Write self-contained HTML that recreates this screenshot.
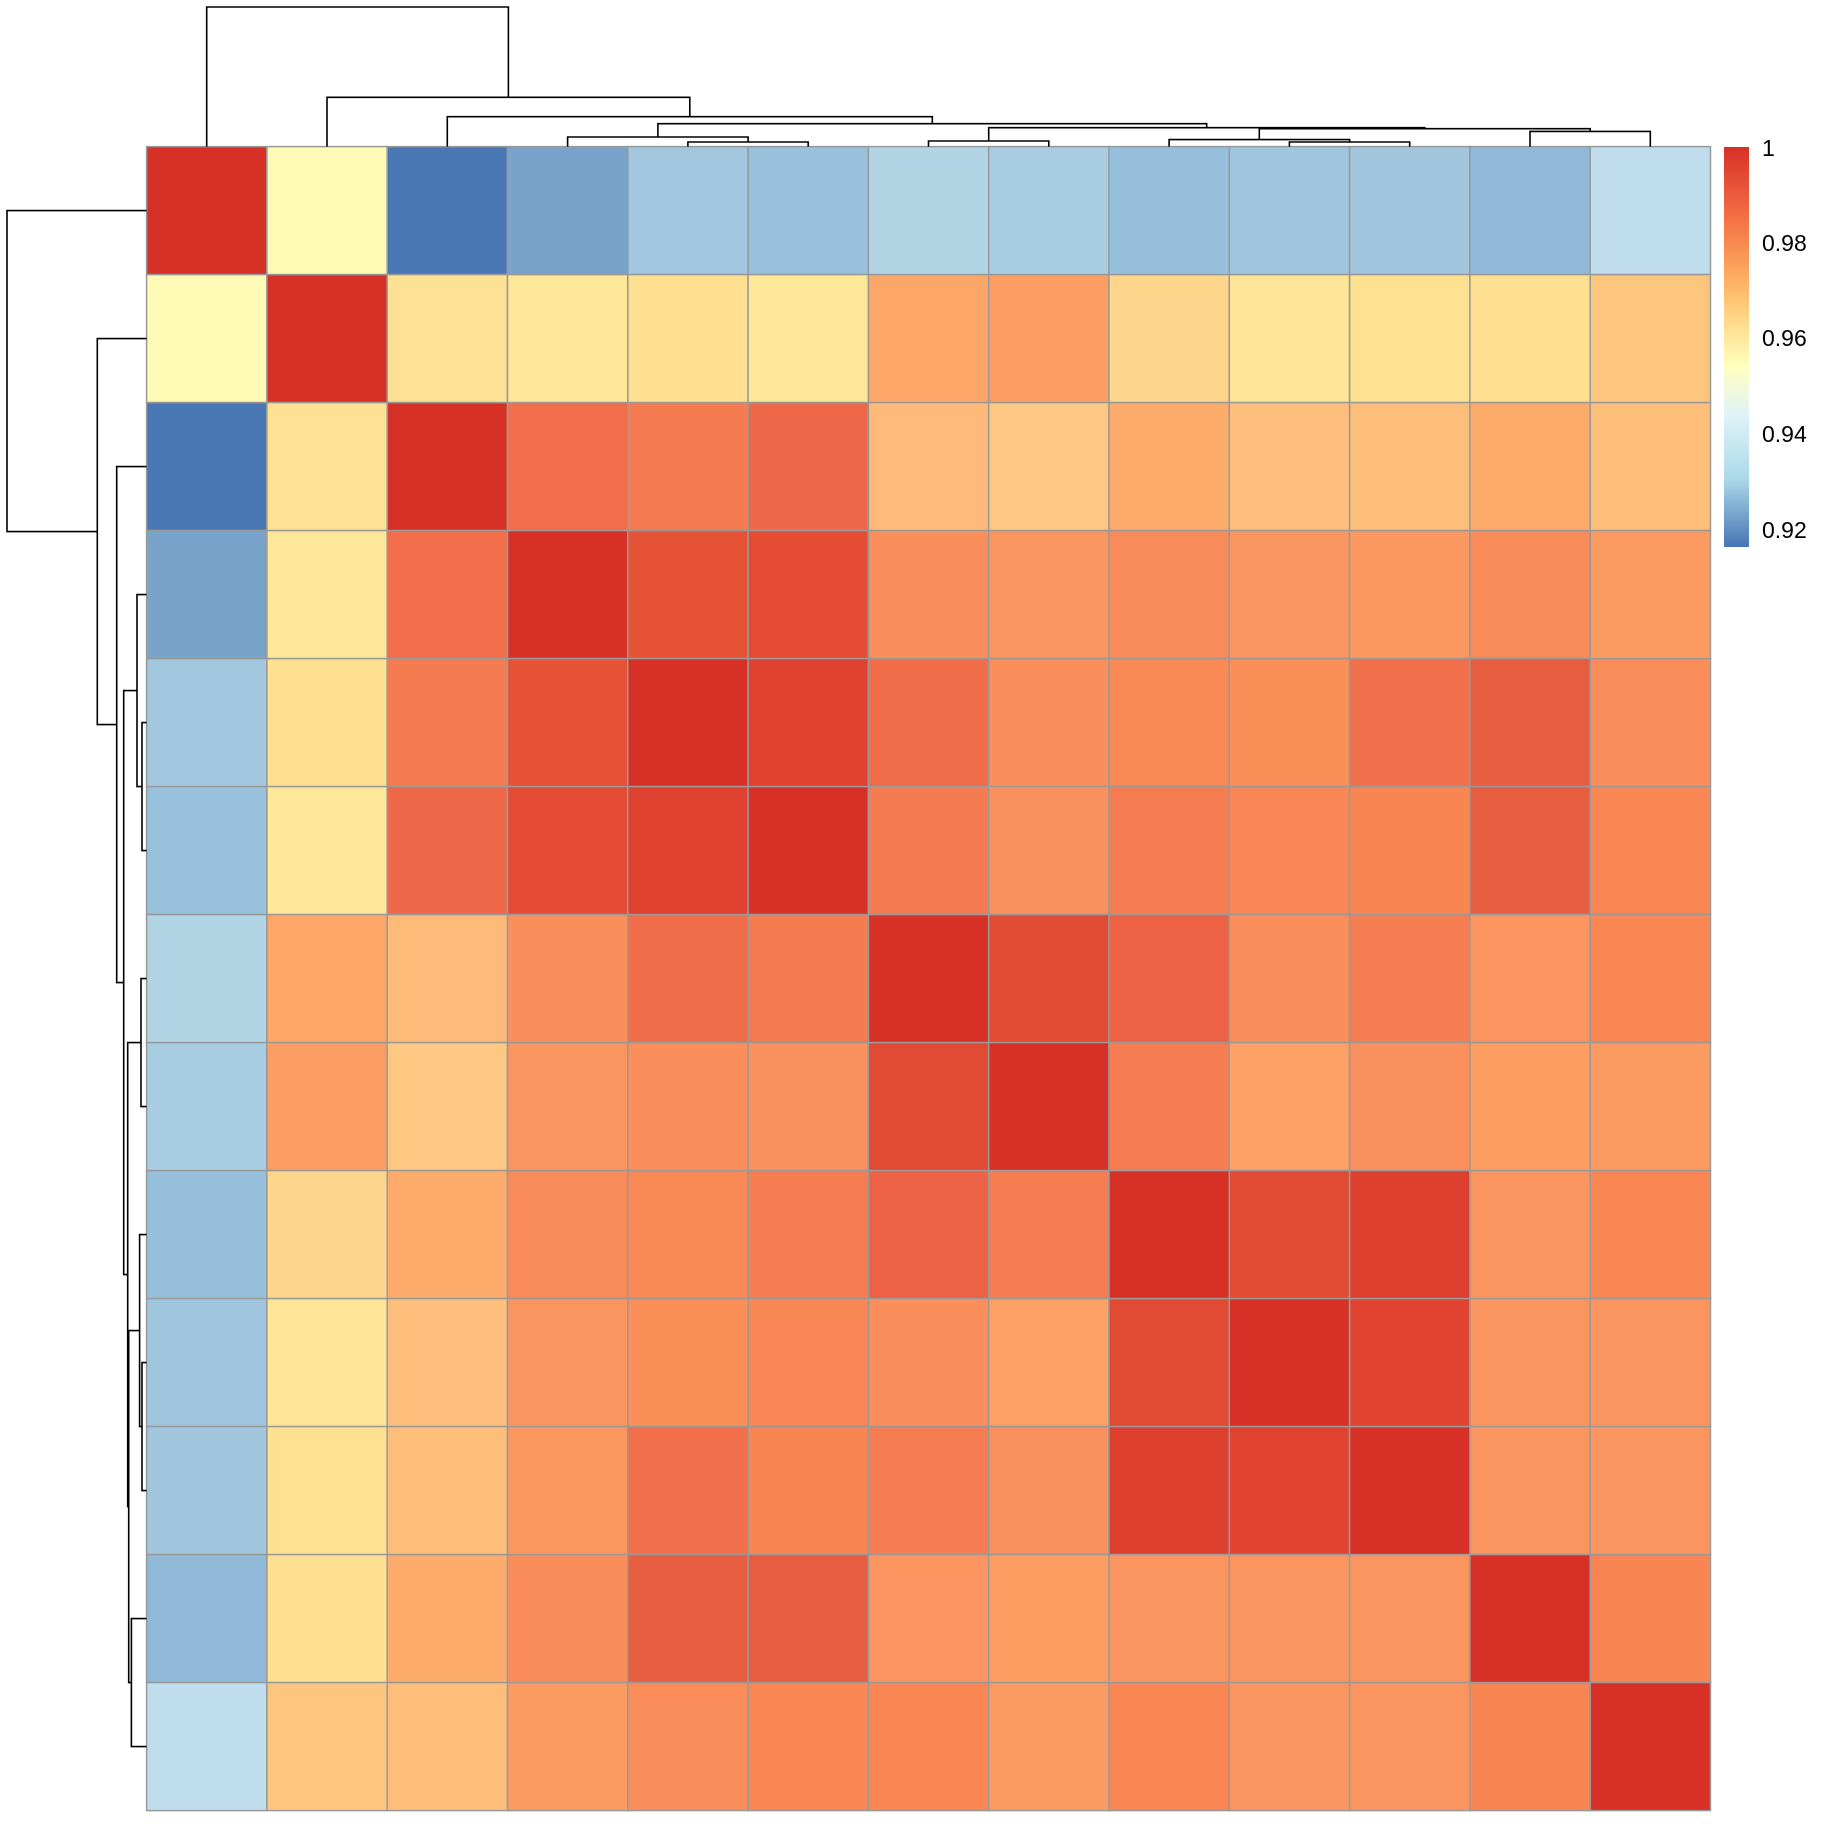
<!DOCTYPE html>
<html><head><meta charset="utf-8"><style>
html,body{margin:0;padding:0;background:#fff;}
svg{display:block;}
</style></head><body>
<svg width="1824" height="1824" viewBox="0 0 1824 1824" xmlns="http://www.w3.org/2000/svg">
<defs>
<linearGradient id="lg" x1="0" y1="0" x2="0" y2="1">
<stop offset="0" stop-color="#d73027"/>
<stop offset="0.17" stop-color="#f46d43"/>
<stop offset="0.33" stop-color="#fdae61"/>
<stop offset="0.45" stop-color="#fee090"/>
<stop offset="0.55" stop-color="#ffffbf"/>
<stop offset="0.67" stop-color="#e0f3f8"/>
<stop offset="0.83" stop-color="#abd9e9"/>
<stop offset="1" stop-color="#4575b4"/>
</linearGradient>
</defs>
<g stroke="#999" stroke-width="1.5">
<g transform="translate(0,146.6)">
<rect x="146.6" width="120.3" height="128" fill="#d73027"/><rect x="266.9" width="120.3" height="128" fill="#fffbb7"/><rect x="387.2" width="120.3" height="128" fill="#4a78b5"/><rect x="507.5" width="120.3" height="128" fill="#78a4cb"/><rect x="627.8" width="120.3" height="128" fill="#a2c7df"/><rect x="748.1" width="120.3" height="128" fill="#98c1dc"/><rect x="868.4" width="120.3" height="128" fill="#b2d5e6"/><rect x="988.7" width="120.3" height="128" fill="#a8cde2"/><rect x="1109" width="120.3" height="128" fill="#96c0db"/><rect x="1229.3" width="120.3" height="128" fill="#a0c5df"/><rect x="1349.6" width="120.3" height="128" fill="#a2c6de"/><rect x="1469.9" width="120.3" height="128" fill="#90bad8"/><rect x="1590.2" width="120.3" height="128" fill="#bfdded"/>
</g>
<g transform="translate(0,274.6)">
<rect x="146.6" width="120.3" height="128" fill="#fffbb7"/><rect x="266.9" width="120.3" height="128" fill="#d73027"/><rect x="387.2" width="120.3" height="128" fill="#fee294"/><rect x="507.5" width="120.3" height="128" fill="#fee799"/><rect x="627.8" width="120.3" height="128" fill="#fee090"/><rect x="748.1" width="120.3" height="128" fill="#fee799"/><rect x="868.4" width="120.3" height="128" fill="#fca768"/><rect x="988.7" width="120.3" height="128" fill="#fc9e63"/><rect x="1109" width="120.3" height="128" fill="#fdd68b"/><rect x="1229.3" width="120.3" height="128" fill="#fee597"/><rect x="1349.6" width="120.3" height="128" fill="#fee191"/><rect x="1469.9" width="120.3" height="128" fill="#fee090"/><rect x="1590.2" width="120.3" height="128" fill="#fdc67e"/>
</g>
<g transform="translate(0,402.6)">
<rect x="146.6" width="120.3" height="128" fill="#4a78b5"/><rect x="266.9" width="120.3" height="128" fill="#fee294"/><rect x="387.2" width="120.3" height="128" fill="#d73027"/><rect x="507.5" width="120.3" height="128" fill="#f26d4a"/><rect x="627.8" width="120.3" height="128" fill="#f57b51"/><rect x="748.1" width="120.3" height="128" fill="#f0684a"/><rect x="868.4" width="120.3" height="128" fill="#fdba78"/><rect x="988.7" width="120.3" height="128" fill="#fec882"/><rect x="1109" width="120.3" height="128" fill="#fcab6b"/><rect x="1229.3" width="120.3" height="128" fill="#fdbf7b"/><rect x="1349.6" width="120.3" height="128" fill="#fdbe7a"/><rect x="1469.9" width="120.3" height="128" fill="#fcab6b"/><rect x="1590.2" width="120.3" height="128" fill="#fdbe7a"/>
</g>
<g transform="translate(0,530.6)">
<rect x="146.6" width="120.3" height="128" fill="#78a4cb"/><rect x="266.9" width="120.3" height="128" fill="#fee799"/><rect x="387.2" width="120.3" height="128" fill="#f26d4a"/><rect x="507.5" width="120.3" height="128" fill="#d73027"/><rect x="627.8" width="120.3" height="128" fill="#e65236"/><rect x="748.1" width="120.3" height="128" fill="#e44c34"/><rect x="868.4" width="120.3" height="128" fill="#fa8f5c"/><rect x="988.7" width="120.3" height="128" fill="#fb955f"/><rect x="1109" width="120.3" height="128" fill="#f98a59"/><rect x="1229.3" width="120.3" height="128" fill="#fb955f"/><rect x="1349.6" width="120.3" height="128" fill="#fb975f"/><rect x="1469.9" width="120.3" height="128" fill="#fa8c5a"/><rect x="1590.2" width="120.3" height="128" fill="#fb9b62"/>
</g>
<g transform="translate(0,658.6)">
<rect x="146.6" width="120.3" height="128" fill="#a2c7df"/><rect x="266.9" width="120.3" height="128" fill="#fee090"/><rect x="387.2" width="120.3" height="128" fill="#f57b51"/><rect x="507.5" width="120.3" height="128" fill="#e65236"/><rect x="627.8" width="120.3" height="128" fill="#d73027"/><rect x="748.1" width="120.3" height="128" fill="#df4030"/><rect x="868.4" width="120.3" height="128" fill="#f06d4a"/><rect x="988.7" width="120.3" height="128" fill="#fb8f5c"/><rect x="1109" width="120.3" height="128" fill="#f98955"/><rect x="1229.3" width="120.3" height="128" fill="#fa9058"/><rect x="1349.6" width="120.3" height="128" fill="#f26f4b"/><rect x="1469.9" width="120.3" height="128" fill="#e75d40"/><rect x="1590.2" width="120.3" height="128" fill="#fa8d5a"/>
</g>
<g transform="translate(0,786.6)">
<rect x="146.6" width="120.3" height="128" fill="#98c1dc"/><rect x="266.9" width="120.3" height="128" fill="#fee799"/><rect x="387.2" width="120.3" height="128" fill="#f0684a"/><rect x="507.5" width="120.3" height="128" fill="#e44c34"/><rect x="627.8" width="120.3" height="128" fill="#df4030"/><rect x="748.1" width="120.3" height="128" fill="#d73027"/><rect x="868.4" width="120.3" height="128" fill="#f57b51"/><rect x="988.7" width="120.3" height="128" fill="#fa905d"/><rect x="1109" width="120.3" height="128" fill="#f67d52"/><rect x="1229.3" width="120.3" height="128" fill="#f98655"/><rect x="1349.6" width="120.3" height="128" fill="#f88552"/><rect x="1469.9" width="120.3" height="128" fill="#e75d40"/><rect x="1590.2" width="120.3" height="128" fill="#f98653"/>
</g>
<g transform="translate(0,914.6)">
<rect x="146.6" width="120.3" height="128" fill="#b2d5e6"/><rect x="266.9" width="120.3" height="128" fill="#fca768"/><rect x="387.2" width="120.3" height="128" fill="#fdba78"/><rect x="507.5" width="120.3" height="128" fill="#fa8f5c"/><rect x="627.8" width="120.3" height="128" fill="#f06d4a"/><rect x="748.1" width="120.3" height="128" fill="#f57b51"/><rect x="868.4" width="120.3" height="128" fill="#d73027"/><rect x="988.7" width="120.3" height="128" fill="#e24b33"/><rect x="1109" width="120.3" height="128" fill="#ed6244"/><rect x="1229.3" width="120.3" height="128" fill="#fa8f5c"/><rect x="1349.6" width="120.3" height="128" fill="#f67d52"/><rect x="1469.9" width="120.3" height="128" fill="#fc955f"/><rect x="1590.2" width="120.3" height="128" fill="#f98653"/>
</g>
<g transform="translate(0,1042.6)">
<rect x="146.6" width="120.3" height="128" fill="#a8cde2"/><rect x="266.9" width="120.3" height="128" fill="#fc9e63"/><rect x="387.2" width="120.3" height="128" fill="#fec882"/><rect x="507.5" width="120.3" height="128" fill="#fb955f"/><rect x="627.8" width="120.3" height="128" fill="#fa8f5c"/><rect x="748.1" width="120.3" height="128" fill="#fa905d"/><rect x="868.4" width="120.3" height="128" fill="#e24b33"/><rect x="988.7" width="120.3" height="128" fill="#d73027"/><rect x="1109" width="120.3" height="128" fill="#f67d52"/><rect x="1229.3" width="120.3" height="128" fill="#fca266"/><rect x="1349.6" width="120.3" height="128" fill="#fa905d"/><rect x="1469.9" width="120.3" height="128" fill="#fc9d62"/><rect x="1590.2" width="120.3" height="128" fill="#fb9b62"/>
</g>
<g transform="translate(0,1170.6)">
<rect x="146.6" width="120.3" height="128" fill="#96c0db"/><rect x="266.9" width="120.3" height="128" fill="#fdd68b"/><rect x="387.2" width="120.3" height="128" fill="#fcab6b"/><rect x="507.5" width="120.3" height="128" fill="#f98a59"/><rect x="627.8" width="120.3" height="128" fill="#f98955"/><rect x="748.1" width="120.3" height="128" fill="#f67d52"/><rect x="868.4" width="120.3" height="128" fill="#ed6244"/><rect x="988.7" width="120.3" height="128" fill="#f67d52"/><rect x="1109" width="120.3" height="128" fill="#d73027"/><rect x="1229.3" width="120.3" height="128" fill="#e24b33"/><rect x="1349.6" width="120.3" height="128" fill="#de4030"/><rect x="1469.9" width="120.3" height="128" fill="#fb955f"/><rect x="1590.2" width="120.3" height="128" fill="#f98653"/>
</g>
<g transform="translate(0,1298.6)">
<rect x="146.6" width="120.3" height="128" fill="#a0c5df"/><rect x="266.9" width="120.3" height="128" fill="#fee597"/><rect x="387.2" width="120.3" height="128" fill="#fdbf7b"/><rect x="507.5" width="120.3" height="128" fill="#fb955f"/><rect x="627.8" width="120.3" height="128" fill="#fa9058"/><rect x="748.1" width="120.3" height="128" fill="#f98655"/><rect x="868.4" width="120.3" height="128" fill="#fa8f5c"/><rect x="988.7" width="120.3" height="128" fill="#fca266"/><rect x="1109" width="120.3" height="128" fill="#e24b33"/><rect x="1229.3" width="120.3" height="128" fill="#d73027"/><rect x="1349.6" width="120.3" height="128" fill="#e04430"/><rect x="1469.9" width="120.3" height="128" fill="#fb955f"/><rect x="1590.2" width="120.3" height="128" fill="#fb955f"/>
</g>
<g transform="translate(0,1426.6)">
<rect x="146.6" width="120.3" height="128" fill="#a2c6de"/><rect x="266.9" width="120.3" height="128" fill="#fee191"/><rect x="387.2" width="120.3" height="128" fill="#fdbe7a"/><rect x="507.5" width="120.3" height="128" fill="#fb975f"/><rect x="627.8" width="120.3" height="128" fill="#f26f4b"/><rect x="748.1" width="120.3" height="128" fill="#f88552"/><rect x="868.4" width="120.3" height="128" fill="#f67d52"/><rect x="988.7" width="120.3" height="128" fill="#fa905d"/><rect x="1109" width="120.3" height="128" fill="#de4030"/><rect x="1229.3" width="120.3" height="128" fill="#e04430"/><rect x="1349.6" width="120.3" height="128" fill="#d73027"/><rect x="1469.9" width="120.3" height="128" fill="#fb955f"/><rect x="1590.2" width="120.3" height="128" fill="#fb955f"/>
</g>
<g transform="translate(0,1554.6)">
<rect x="146.6" width="120.3" height="128" fill="#90bad8"/><rect x="266.9" width="120.3" height="128" fill="#fee090"/><rect x="387.2" width="120.3" height="128" fill="#fcab6b"/><rect x="507.5" width="120.3" height="128" fill="#fa8c5a"/><rect x="627.8" width="120.3" height="128" fill="#e75d40"/><rect x="748.1" width="120.3" height="128" fill="#e75d40"/><rect x="868.4" width="120.3" height="128" fill="#fc955f"/><rect x="988.7" width="120.3" height="128" fill="#fc9d62"/><rect x="1109" width="120.3" height="128" fill="#fb955f"/><rect x="1229.3" width="120.3" height="128" fill="#fb955f"/><rect x="1349.6" width="120.3" height="128" fill="#fb955f"/><rect x="1469.9" width="120.3" height="128" fill="#d73027"/><rect x="1590.2" width="120.3" height="128" fill="#f88552"/>
</g>
<g transform="translate(0,1682.6)">
<rect x="146.6" width="120.3" height="128" fill="#bfdded"/><rect x="266.9" width="120.3" height="128" fill="#fdc67e"/><rect x="387.2" width="120.3" height="128" fill="#fdbe7a"/><rect x="507.5" width="120.3" height="128" fill="#fb9b62"/><rect x="627.8" width="120.3" height="128" fill="#fa8d5a"/><rect x="748.1" width="120.3" height="128" fill="#f98653"/><rect x="868.4" width="120.3" height="128" fill="#f98653"/><rect x="988.7" width="120.3" height="128" fill="#fb9b62"/><rect x="1109" width="120.3" height="128" fill="#f98653"/><rect x="1229.3" width="120.3" height="128" fill="#fb955f"/><rect x="1349.6" width="120.3" height="128" fill="#fb955f"/><rect x="1469.9" width="120.3" height="128" fill="#f88552"/><rect x="1590.2" width="120.3" height="128" fill="#d73027"/>
</g>
</g>
<g fill="none" stroke="#000" stroke-width="1.6">
<path d="M687.9 146.6V142H808.2V146.6"/>
<path d="M567.6 146.6V137H748.1V142"/>
<path d="M928.5 146.6V141H1048.8V146.6"/>
<path d="M1289.4 146.6V142H1409.7V146.6"/>
<path d="M1169.1 146.6V139.6H1349.6V142"/>
<path d="M1530 146.6V131.4H1650.3V146.6"/>
<path d="M1259.3 139.6V128.7H1590.2V131.4"/>
<path d="M988.7 141V127.7H1424.8V128.7"/>
<path d="M657.9 137V123.7H1206.7V127.7"/>
<path d="M447.3 146.6V116.7H932.3V123.7"/>
<path d="M327 146.6V97.3H689.8V116.7"/>
<path d="M206.7 146.6V7H508.4V97.3"/>
<path d="M146.6 722.6H142V850.6H146.6"/>
<path d="M146.6 594.6H137V786.6H142"/>
<path d="M146.6 978.6H141V1106.6H146.6"/>
<path d="M146.6 1362.6H142V1490.6H146.6"/>
<path d="M146.6 1234.6H139.6V1426.6H142"/>
<path d="M146.6 1618.6H131.4V1746.6H146.6"/>
<path d="M139.6 1330.6H128.7V1682.6H131.4"/>
<path d="M141 1042.6H127.7V1506.6H128.7"/>
<path d="M137 690.6H123.7V1274.6H127.7"/>
<path d="M146.6 466.6H116.7V982.6H123.7"/>
<path d="M146.6 338.6H97.3V724.6H116.7"/>
<path d="M146.6 210.6H7V531.6H97.3"/>
</g>
<rect x="1724" y="147" width="25" height="400" fill="url(#lg)"/>
<g font-family="Liberation Sans, Arial, sans-serif" font-size="23" fill="#000">
<text x="1762" y="156">1</text>
<text x="1762" y="251">0.98</text>
<text x="1762" y="346">0.96</text>
<text x="1762" y="442">0.94</text>
<text x="1762" y="538">0.92</text>
</g>
</svg>
</body></html>
